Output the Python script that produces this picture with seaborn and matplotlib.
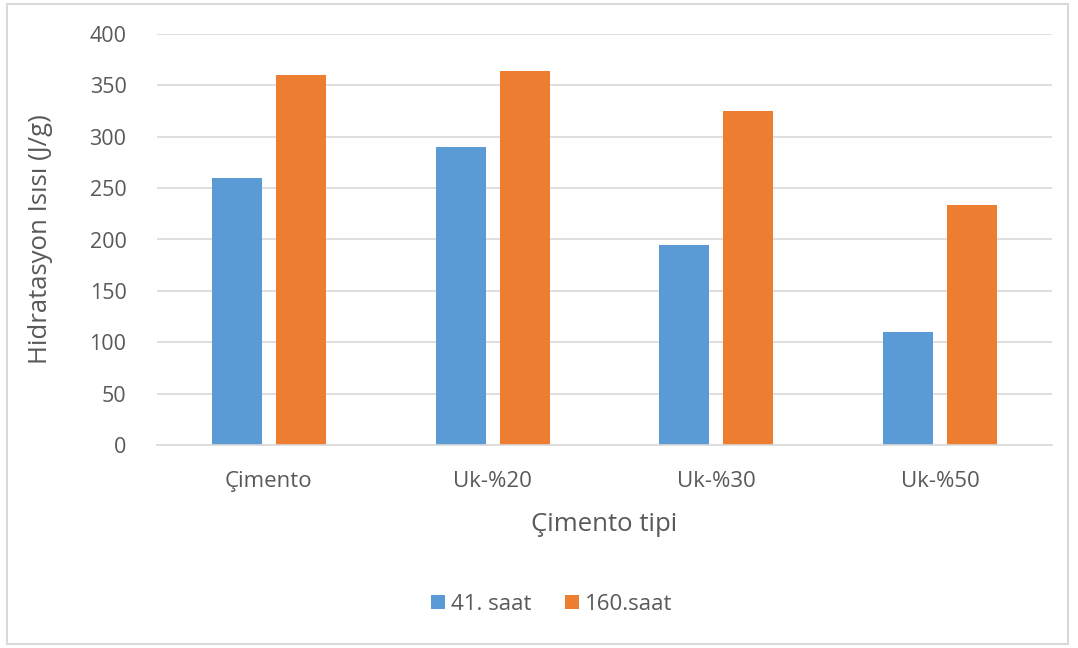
import matplotlib
matplotlib.use("Agg")
import matplotlib.pyplot as plt
from matplotlib.patches import Rectangle, Patch
import seaborn as sns
import pandas as pd

categories = ["Çimento", "Uk-%20", "Uk-%30", "Uk-%50"]
series_names = ["41. saat", "160.saat"]
values_41 = [260, 290, 195, 110]
values_160 = [360, 364, 325, 234]
colors = ["#5B9BD5", "#ED7D31"]

df = pd.DataFrame({
    "cat": categories * 2,
    "series": [series_names[0]] * 4 + [series_names[1]] * 4,
    "val": values_41 + values_160,
})

sns.set_theme(style="white")
plt.rcParams["font.family"] = ["Open Sans", "DejaVu Sans"]
text_color = "#595959"

W, H = 1078, 648
fig = plt.figure(figsize=(W / 100, H / 100), dpi=100)
ax = fig.add_axes([157 / W, 1 - 445 / H, (1052 - 157) / W, (445 - 34) / H])

sns.barplot(data=df, x="cat", y="val", hue="series", order=categories,
            hue_order=series_names, palette=colors, width=0.572, gap=0.22,
            saturation=1, ax=ax, legend=False, errorbar=None,
            edgecolor="none")

ax.set_ylim(0, 400)
ax.set_xlim(-0.5, 3.5)
ax.set_yticks(range(0, 401, 50))
ax.yaxis.grid(True, color="#D9D9D9", linewidth=1.2)
ax.set_axisbelow(True)
for s in ["top", "right", "left"]:
    ax.spines[s].set_visible(False)
ax.spines["bottom"].set_color("#D9D9D9")
ax.spines["bottom"].set_linewidth(1.2)
ax.tick_params(axis="x", length=0, colors=text_color, labelsize=16, pad=19)
ax.tick_params(axis="y", length=0, colors=text_color, labelsize=15.5, pad=22)

ax.set_xlabel("Çimento tipi", fontsize=18.5, color=text_color, labelpad=14)
ax.set_ylabel("Hidratasyon Isısı (J/g)", fontsize=18.5, color=text_color, labelpad=26)

handles = [Patch(facecolor=c, edgecolor="none") for c in colors]
fig.legend(handles, series_names, loc="center", bbox_to_anchor=(552 / W, 1 - 604 / H),
           ncol=2, frameon=False, fontsize=16, handlelength=0.6, handleheight=0.6,
           handletextpad=0.3, columnspacing=1.5, labelcolor=text_color)

fig.patches.append(Rectangle((7 / W, 4 / H), (1068 - 7) / W, (644 - 4) / H,
                             transform=fig.transFigure, fill=False,
                             edgecolor="#D9D9D9", linewidth=1.5))

fig.savefig("out.png", dpi=100, facecolor="white")
